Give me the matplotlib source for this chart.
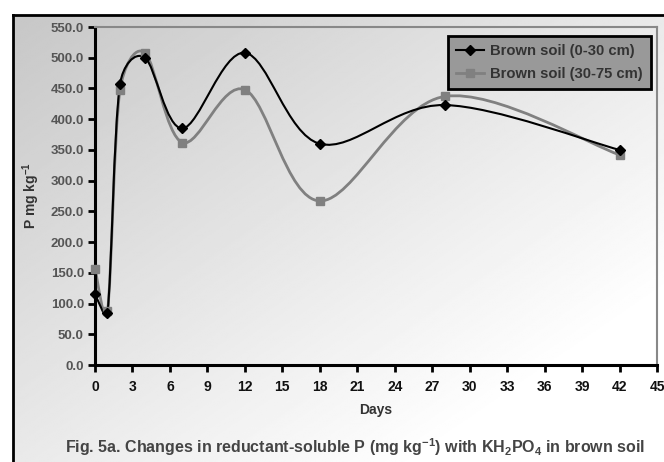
import numpy as np
import matplotlib
matplotlib.use("Agg")
import matplotlib.pyplot as plt
from matplotlib.path import Path
from matplotlib.patches import PathPatch

plt.rcParams['font.family'] = ['Liberation Sans', 'DejaVu Sans']
plt.rcParams['font.weight'] = 'bold'
plt.rcParams['mathtext.fontset'] = 'custom'
plt.rcParams['mathtext.rm'] = 'Liberation Sans:bold'
plt.rcParams['mathtext.bf'] = 'Liberation Sans:bold'
plt.rcParams['mathtext.default'] = 'bf'

days = [0, 1, 2, 4, 7, 12, 18, 28, 42]
soil_0_30 = [115, 85, 457, 500, 385, 508, 360, 423, 350]
soil_30_75 = [157, 88, 447, 508, 362, 448, 267, 437, 342]
x_ticks = list(range(0, 46, 3))
y_ticks = [0, 50, 100, 150, 200, 250, 300, 350, 400, 450, 500, 550]


def smooth_path(ax, xs, ys):
    # Excel-style smoothed line, control points worked out in pixel space
    pts = ax.transData.transform(np.column_stack([xs, ys]).astype(float))
    n = len(pts)
    verts = [pts[0]]
    codes = [Path.MOVETO]
    for i in range(n - 1):
        p0 = pts[i - 1] if i > 0 else pts[i]
        p1 = pts[i]
        p2 = pts[i + 1]
        p3 = pts[i + 2] if i + 2 < n else pts[i + 1]
        d12 = np.hypot(*(p2 - p1))
        d02 = np.hypot(*(p2 - p0))
        d13 = np.hypot(*(p3 - p1))
        f0 = 1 / 6 if d02 / 6 < d12 / 2 or d02 == 0 else d12 / 2 / d02
        f1 = 1 / 6 if d13 / 6 < d12 / 2 or d13 == 0 else d12 / 2 / d13
        c1 = p1 + (p2 - p0) * f0
        c2 = p2 - (p3 - p1) * f1
        verts += [c1, c2, p2]
        codes += [Path.CURVE4] * 3
    verts = ax.transData.inverted().transform(np.array(verts))
    return Path(verts, codes)


W, H = 664, 462
fig = plt.figure(figsize=(W / 100, H / 100), dpi=100)
fig.patch.set_facecolor('white')

# gradient background of the chart frame
bg = fig.add_axes([13 / W, 0, 1 - 13 / W, 1 - 15 / H])
gx, gy = np.meshgrid(np.linspace(0, 1, 300), np.linspace(0, 1, 300))
grad = np.clip(0.78 + 0.27 * (0.5 * gx + 0.5 * gy), 0, 1)
bg.imshow(grad, cmap='gray', vmin=0, vmax=1, aspect='auto',
          extent=[0, 1, 0, 1], origin='upper', interpolation='bilinear')
bg.set_xlim(0, 1)
bg.set_ylim(0, 1)
bg.set_xticks([])
bg.set_yticks([])
for s in ['right', 'bottom']:
    bg.spines[s].set_visible(False)
for s in ['left', 'top']:
    bg.spines[s].set_linewidth(2)
    bg.spines[s].set_color('black')

ax = fig.add_axes([95 / W, 1 - 365 / H, (657 - 95) / W, (365 - 27) / H])
ax.set_facecolor('none')
ax.set_xlim(0, 45)
ax.set_ylim(0, 550)

ax.add_patch(PathPatch(smooth_path(ax, days, soil_0_30), facecolor='none',
                       edgecolor='black', lw=1.5, zorder=3))
ax.add_patch(PathPatch(smooth_path(ax, days, soil_30_75), facecolor='none',
                       edgecolor='#808080', lw=2.0, zorder=2))
ax.plot(days, soil_0_30, linestyle='none', marker='D', ms=5.5,
        color='black', zorder=5, clip_on=False)
ax.plot(days, soil_30_75, linestyle='none', marker='s', ms=6,
        color='#808080', zorder=4, clip_on=False)

# legend proxies
ax.plot([], [], color='black', lw=1.5, marker='D', ms=5,
        label='Brown soil (0-30 cm)')
ax.plot([], [], color='#808080', lw=2, marker='s', ms=6,
        label='Brown soil (30-75 cm)')

ax.set_xticks(x_ticks)
ax.set_yticks(y_ticks)
ax.set_yticklabels([f'{v:.1f}' for v in y_ticks])
ax.tick_params(axis='y', direction='out', length=5, width=2,
               labelsize=9.5, labelcolor='#555555', pad=3)
ax.tick_params(axis='x', direction='out', length=5, width=2,
               labelsize=10, labelcolor='#111111', pad=6)
for t in ax.get_xticklabels() + ax.get_yticklabels():
    t.set_fontweight('bold')
ax.spines['left'].set_linewidth(2.2)
ax.spines['bottom'].set_linewidth(2.2)
ax.spines['top'].set_color('#888888')
ax.spines['right'].set_color('#888888')
ax.spines['top'].set_linewidth(1.5)
ax.spines['right'].set_linewidth(1.5)

ax.set_xlabel('Days', fontsize=10, color='#333333', labelpad=6,
              fontweight='bold')
fig.text(31 / W, 1 - 196 / H, 'P mg kg$^{-1}$', rotation=90,
         ha='center', va='center', fontsize=10, color='#333333',
         fontweight='bold')

leg = ax.legend(loc='upper right', bbox_to_anchor=(651 / W, 1 - 36 / H),
                bbox_transform=fig.transFigure, borderaxespad=0,
                fontsize=10.6, frameon=True, fancybox=False,
                borderpad=0.55, handlelength=1.9, labelspacing=0.6,
                handletextpad=0.4)
leg.get_frame().set_facecolor('#999999')
leg.get_frame().set_edgecolor('black')
leg.get_frame().set_linewidth(2)
leg.get_frame().set_alpha(1)
for t in leg.get_texts():
    t.set_color('#333333')
    t.set_fontweight('bold')

fig.text(0.5 * (63 + 647) / W, 1 - 447 / H,
         'Fig. 5a. Changes in reductant-soluble P (mg kg$^{-1}$) '
         'with KH$_{2}$PO$_{4}$ in brown soil',
         ha='center', va='center', fontsize=11.5, color='#444444',
         fontweight='bold')

fig.savefig('out.png', dpi=100)
